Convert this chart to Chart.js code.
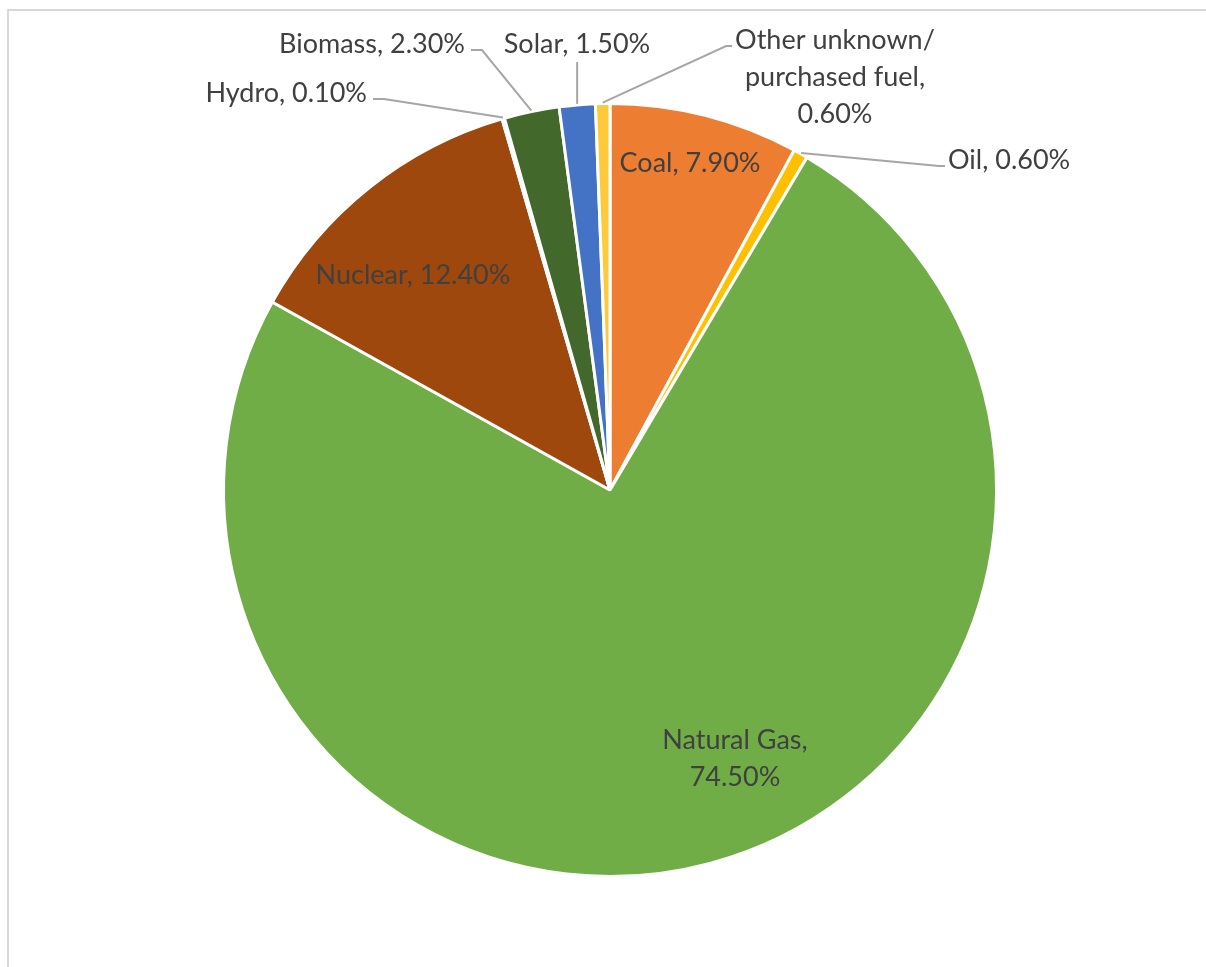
<!DOCTYPE html>
<html>
<head>
<meta charset="utf-8">
<script src="https://cdn.jsdelivr.net/npm/chart.js@4/dist/chart.umd.min.js"></script>
<style>
  html, body { margin: 0; padding: 0; background: #fff; }
  #wrap { width: 1206px; height: 967px; }
</style>
</head>
<body>
<div id="wrap"><canvas id="myChart" width="1206" height="967"></canvas></div>
<script>
// data, clockwise from 12 o'clock
var categories = ['Coal', 'Oil', 'Natural Gas', 'Nuclear', 'Hydro', 'Biomass', 'Solar', 'Other unknown/ purchased fuel'];
var shares = [7.9, 0.6, 74.5, 12.4, 0.1, 2.3, 1.5, 0.6];
var labelLines = [
  ['Coal, 7.90%'],
  ['Oil, 0.60%'],
  ['Natural Gas,', '74.50%'],
  ['Nuclear, 12.40%'],
  ['Hydro, 0.10%'],
  ['Biomass, 2.30%'],
  ['Solar, 1.50%'],
  ['Other unknown/', 'purchased fuel,', '0.60%']
];

var sliceColors = ['#ED7D31', '#FFC000', '#70AD47', '#9E480E', '#264478', '#43682B', '#4472C4', '#FFCA3A'];

// label placement relative to the pie centre (x, y of the first line)
// side: where the leader attaches: null = inside label, 'right' = text ends left of leader,
// 'left' = text starts right of leader, 'bottom' = leader comes up from below
var labelPlace = [
  { x: 80,   y: -327, align: 'center', side: null },
  { x: 338,  y: -330, align: 'left',   side: 'left' },
  { x: 125,  y: 250,  align: 'center', side: null },
  { x: -197, y: -215, align: 'center', side: null },
  { x: -243, y: -397, align: 'right',  side: 'right' },
  { x: -145, y: -446, align: 'right',  side: 'right' },
  { x: -33,  y: -446, align: 'center', side: 'bottom' },
  { x: 225,  y: -450, align: 'center', side: 'left' }
];

var frame = {
  id: 'frame',
  beforeDraw: function(chart) {
    var c = chart.ctx;
    c.save();
    c.strokeStyle = '#d9d9d9';
    c.lineWidth = 2;
    c.beginPath();
    c.moveTo(8, 980);
    c.lineTo(8, 10);
    c.lineTo(1220, 10);
    c.stroke();
    c.restore();
  }
};

var pieLabels = {
  id: 'pieLabels',
  afterDatasetsDraw: function(chart) {
    var c = chart.ctx;
    var meta = chart.getDatasetMeta(0);
    var lineH = 37;
    c.save();
    c.font = '27px Lato, "Open Sans", sans-serif';
    c.fillStyle = '#404040';
    c.textBaseline = 'middle';
    meta.data.forEach(function(arc, i) {
      var p = arc.getProps(['x', 'y', 'startAngle', 'endAngle', 'outerRadius'], true);
      var pl = labelPlace[i];
      var tx = p.x + pl.x, ty = p.y + pl.y;
      var lines = labelLines[i];
      c.textAlign = pl.align;
      lines.forEach(function(t, k) { c.fillText(t, tx, ty + k * lineH); });
      if (!pl.side) return;
      var mid = (p.startAngle + p.endAngle) / 2;
      var ax = p.x + Math.cos(mid) * (p.outerRadius + 1);
      var ay = p.y + Math.sin(mid) * (p.outerRadius + 1);
      var w = c.measureText(lines[0]).width;
      var left = pl.align === 'left' ? tx : (pl.align === 'right' ? tx - w : tx - w / 2);
      var right = left + w;
      c.strokeStyle = '#a6a6a6';
      c.lineWidth = 2;
      c.beginPath();
      if (pl.side === 'bottom') {
        c.moveTo(ax, ay);
        c.lineTo(ax, ty + 18);
      } else if (pl.side === 'right') {
        c.moveTo(ax, ay);
        c.lineTo(right + 17, ty + 6);
        c.lineTo(right + 6, ty + 6);
      } else {
        c.moveTo(ax, ay);
        c.lineTo(left - 9, ty + 6);
        c.lineTo(left - 3, ty + 6);
      }
      c.stroke();
    });
    c.restore();
  }
};

var ctx = document.getElementById('myChart');
var myChart = new Chart(ctx, {
  type: 'pie',
  data: {
    labels: categories,
    datasets: [{
      data: shares,
      backgroundColor: sliceColors,
      borderColor: '#ffffff',
      borderWidth: 3
    }]
  },
  options: {
    responsive: false,
    animation: false,
    devicePixelRatio: 1,
    layout: { padding: { top: 102, bottom: 89, left: 222, right: 208 } },
    plugins: {
      legend: { display: false },
      tooltip: { enabled: false },
      title: { display: false }
    }
  },
  plugins: [frame, pieLabels]
});
</script>
</body>
</html>
